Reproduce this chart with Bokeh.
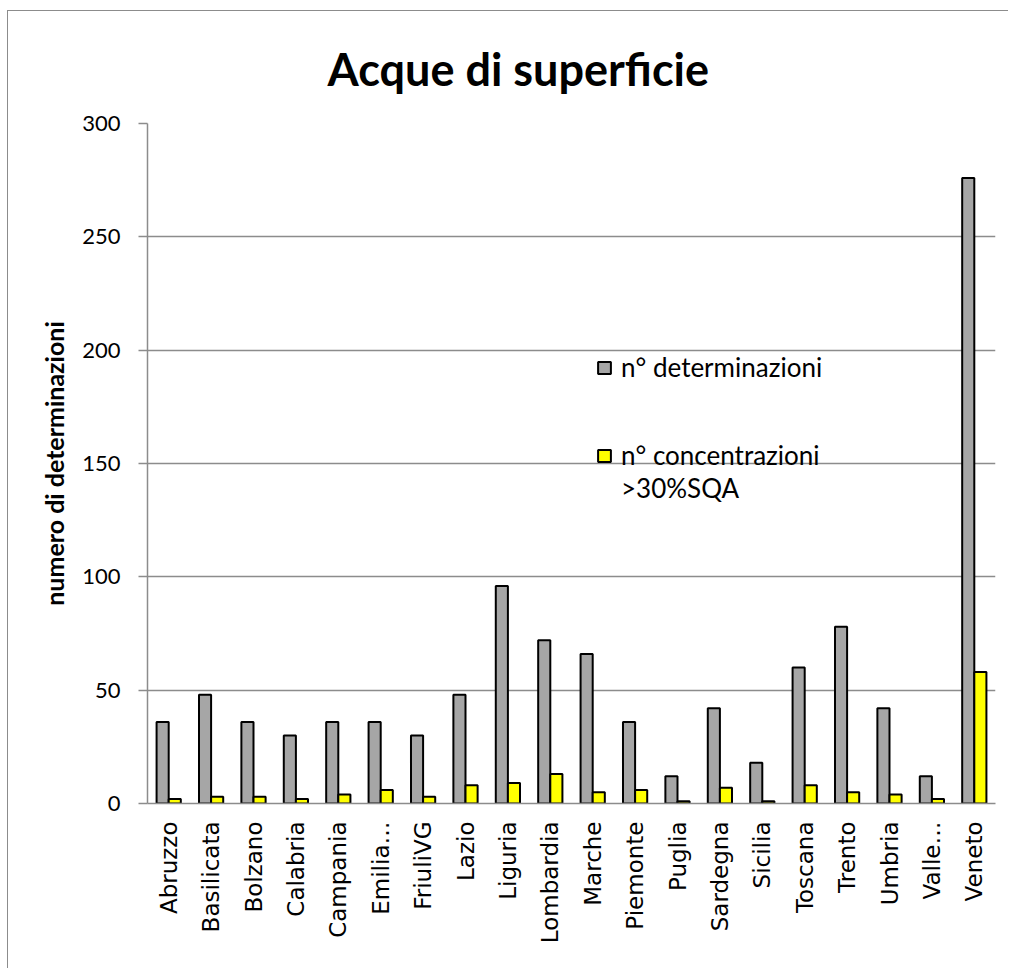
from math import pi
from bokeh.plotting import figure
from bokeh.models import FactorRange, Range1d, Legend, LegendItem, FixedTicker, ColumnDataSource
from bokeh.transform import dodge
from bokeh.embed import file_html
from bokeh.resources import INLINE

regions = ["Abruzzo", "Basilicata", "Bolzano", "Calabria", "Campania", "Emilia\u2026",
           "FriuliVG", "Lazio", "Liguria", "Lombardia", "Marche", "Piemonte", "Puglia",
           "Sardegna", "Sicilia", "Toscana", "Trento", "Umbria", "Valle\u2026", "Veneto"]
n_determinazioni = [36, 48, 36, 30, 36, 36, 30, 48, 96, 72, 66, 36, 12, 42, 18, 60, 78, 42, 12, 276]
n_concentrazioni = [2, 3, 3, 2, 4, 6, 3, 8, 9, 13, 5, 6, 1, 7, 1, 8, 5, 4, 2, 58]
y_ticks = [0, 50, 100, 150, 200, 250, 300]

source = ColumnDataSource(dict(region=regions, det=n_determinazioni, conc=n_concentrazioni))

p = figure(x_range=FactorRange(factors=regions, range_padding=0), y_range=Range1d(0, 300),
           width=1001, height=958, output_backend="svg", toolbar_location=None,
           min_border_left=139, min_border_right=14, min_border_top=112, min_border_bottom=166)
p.margin = (10, 0, 0, 7)
p.styles = {"border-left": "1px solid #8c8c8c", "border-top": "1px solid #8c8c8c",
            "border-right": "none", "border-bottom": "none", "box-shadow": "none", "outline": "none"}

bw = 1 / 3.5
r1 = p.vbar(x=dodge("region", -bw / 2, range=p.x_range), top="det", width=bw, source=source,
            fill_color="#a6a6a6", line_color="black", line_width=2)
r2 = p.vbar(x=dodge("region", bw / 2, range=p.x_range), top="conc", width=bw, source=source,
            fill_color="#ffff00", line_color="black", line_width=2)
# invisible renderer used only to carry the second line of the legend label
r3 = p.vbar(x=[], top=[], width=bw, fill_alpha=0, line_alpha=0)

p.title.text = "Acque di superficie"
p.title.align = "left"
p.title.offset = 180
p.title.standoff = 56
p.title.text_line_height = 0.8
p.title.text_font = "Lato"
p.title.text_font_style = "bold"
p.title.text_font_size = "45px"
p.title.text_color = "black"

p.outline_line_color = None
p.xgrid.grid_line_color = None
p.ygrid.grid_line_color = "#8c8c8c"
p.ygrid.grid_line_width = 1.5
p.ygrid.ticker = FixedTicker(ticks=y_ticks)

p.yaxis.ticker = FixedTicker(ticks=y_ticks)
p.yaxis.axis_line_color = "#8c8c8c"
p.yaxis.axis_line_width = 1.5
p.yaxis.major_tick_line_color = "#8c8c8c"
p.yaxis.major_tick_line_width = 1.5
p.yaxis.major_tick_in = 0
p.yaxis.major_tick_out = 9
p.yaxis.minor_tick_line_color = None
p.yaxis.major_label_text_font = "Lato"
p.yaxis.major_label_text_font_size = "22px"
p.yaxis.major_label_text_color = "black"
p.yaxis.major_label_standoff = 18
p.yaxis.axis_label = "numero di determinazioni"
p.yaxis.axis_label_text_font = "Lato"
p.yaxis.axis_label_text_font_style = "bold"
p.yaxis.axis_label_text_font_size = "25px"
p.yaxis.axis_label_text_color = "black"
p.yaxis.axis_label_standoff = 10

p.xaxis.axis_line_color = "#8c8c8c"
p.xaxis.axis_line_width = 1.5
p.xaxis.major_tick_line_color = None
p.xaxis.major_label_orientation = pi / 2
p.xaxis.major_label_text_font = "DejaVu Sans"
p.xaxis.major_label_text_font_size = "23px"
p.xaxis.major_label_text_color = "black"
p.xaxis.major_label_standoff = 12

common = dict(border_line_color=None, background_fill_alpha=0, padding=0, margin=0,
              glyph_width=16, glyph_height=15, label_height=30, label_standoff=9,
              label_text_font="Lato", label_text_font_size="26px", label_text_color="black")
legend_a = Legend(items=[LegendItem(label="n° determinazioni", renderers=[r1])],
                  location=(449, 420), **common)
legend_b = Legend(items=[LegendItem(label="n° concentrazioni", renderers=[r2]),
                         LegendItem(label=">30%SQA", renderers=[r3])],
                  location=(449, 299), spacing=1, **common)
p.add_layout(legend_a)
p.add_layout(legend_b)

open("out.html", "w").write(file_html(p, INLINE))
